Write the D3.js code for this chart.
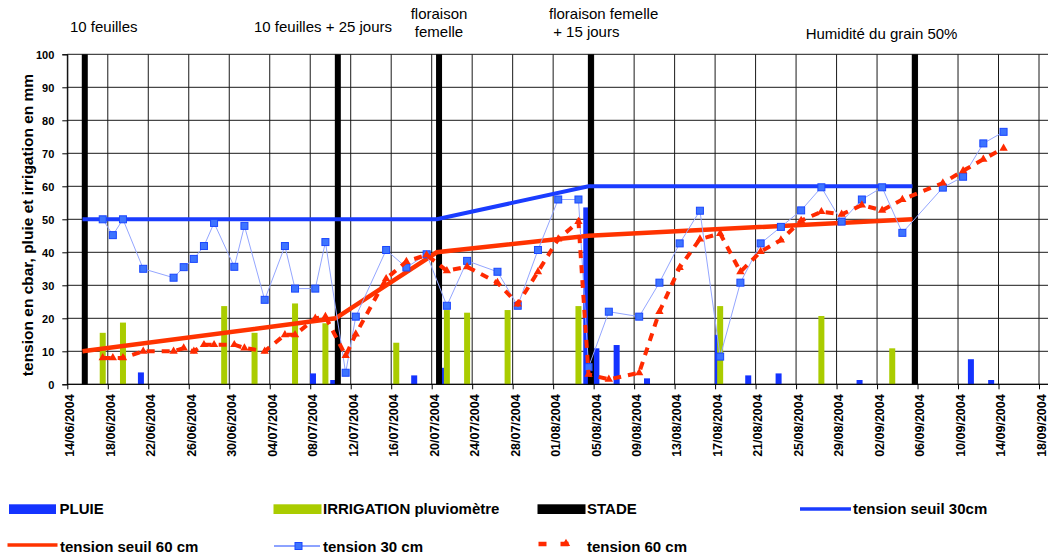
<!DOCTYPE html>
<html><head><meta charset="utf-8">
<script src="https://cdn.jsdelivr.net/npm/d3@7"></script>
<style>
html,body{margin:0;padding:0;background:#fff;}
svg{display:block;font-family:"Liberation Sans",Arial,sans-serif;}
</style></head>
<body><svg id="c" width="1048" height="555"></svg>
<script>
// ---------- DATA ----------
const tension30Dates = ["17/06","18/06","19/06","21/06","24/06","25/06","26/06","27/06","28/06","30/06","01/07","03/07","05/07","06/07","08/07","09/07","11/07","12/07","15/07","17/07","19/07","21/07","23/07","26/07","28/07","30/07","01/08","03/08","04/08","06/08","09/08","11/08","13/08","15/08","17/08","19/08","21/08","23/08","25/08","27/08","29/08","31/08","02/09","04/09","08/09","10/09","12/09","14/09"];
const tension30Values = [50,45.2,50,35,32.3,35.5,38,41.9,48.9,35.6,48,25.6,41.9,29,29,43.1,3.5,20.5,40.7,35.4,39.4,23.8,37.4,34.1,23.8,40.7,56,56,5.2,22,20.5,30.8,42.7,52.6,8.4,30.8,42.7,47.7,52.7,59.7,49.3,56,59.7,45.9,59.6,62.9,73,76.5];
const tension60Dates = tension30Dates;
const tension60Values = [8,8,8,10,10,11,10,12,12,12,11,10,15,15,20,20.5,8.7,15.2,32,37.2,39.2,34.4,35.6,30.8,24.3,34.1,44,49.3,3,1.5,3.5,22,35.4,44,45.7,34.1,40.2,43.7,49.6,52.3,51.5,54.3,52.7,56,61,64.7,68.2,71.5];
const pluieDates = ["21/06","08/07","10/07","18/07","21/07","04/08","05/08","07/08","10/08","17/08","20/08","23/08","31/08","11/09","13/09"];
const pluieValues = [3.6,3.3,1.3,2.7,5,53.6,10.9,11.9,1.8,15,2.7,3.3,1.3,7.6,1.3];
const irrigationDates = ["17/06","19/06","29/06","02/07","06/07","09/07","16/07","21/07","23/07","27/07","03/08","17/08","27/08","03/09"];
const irrigationValues = [15.6,18.7,23.7,15.6,24.5,18.5,12.6,22.5,21.7,22.5,23.7,23.7,20.7,10.9];
const stadeDates = ["15/06","10/07","20/07","04/08","05/09"];
const stadeValues = [100,100,100,100,100];
const stadeLabels = [["10 feuilles"],["10 feuilles + 25 jours"],["floraison","femelle"],["floraison femelle"," + 15 jours"],["Humidité du grain 50%"]];
const seuil30Dates = ["15/06","10/07","20/07","04/08","05/09"];
const seuil30Values = [50,50,50,60,60];
const seuil60Dates = ["15/06","10/07","20/07","04/08","05/09"];
const seuil60Values = [10,20,40,45,50];
const xTickLabels = ["14/06/2004","18/06/2004","22/06/2004","26/06/2004","30/06/2004","04/07/2004","08/07/2004","12/07/2004","16/07/2004","20/07/2004","24/07/2004","28/07/2004","01/08/2004","05/08/2004","09/08/2004","13/08/2004","17/08/2004","21/08/2004","25/08/2004","29/08/2004","02/09/2004","06/09/2004","10/09/2004","14/09/2004","18/09/2004"];
const yTicks = [0,10,20,30,40,50,60,70,80,90,100];
const yTitle = "tension en cbar, pluie et irrigation en mm";
const legendRow1 = ["PLUIE","IRRIGATION pluviomètre","STADE","tension seuil 30cm"];
const legendRow2 = ["tension seuil 60 cm","tension 30 cm","tension 60 cm"];

// ---------- SETUP ----------
const svg = d3.select("#c");
svg.append("rect").attr("width",1048).attr("height",555).attr("fill","#fff");
const pd = s => { const [d,m] = s.split("/").map(Number); return new Date(Date.UTC(2004,m-1,d,12)); };
const pdt = s => { const [d,m,yy] = s.split("/").map(Number); return new Date(Date.UTC(yy,m-1,d)); };
const x = d3.scaleUtc().domain([new Date(Date.UTC(2004,5,14)), new Date(Date.UTC(2004,8,18))]).range([67.3,1039]);
const y = d3.scaleLinear().domain([0,100]).range([384.3,54.3]);
const plotRight = 1048;
const xTicks = xTickLabels.map(pdt);

const C = {pluie:"#1433ff", irr:"#aacc00", stade:"#000", s30:"#1a3cff", s60:"#ff3300", t30:"#3d74ff", t30b:"#1a46ff", t30l:"#94a6ff", t60:"#ff2a00"};
const barW = 6, off = {pluie:-2.3, irr:0, stade:2.3};

// grid
const g = svg.append("g");
g.selectAll("line.h").data(yTicks).join("line")
  .attr("x1",x.range()[0]).attr("x2",plotRight).attr("y1",d=>y(d)).attr("y2",d=>y(d))
  .attr("stroke","#1a1a1a").attr("stroke-width",1);
g.selectAll("line.v").data(xTicks).join("line")
  .attr("x1",d=>x(d)).attr("x2",d=>x(d)).attr("y1",y(100)).attr("y2",y(0))
  .attr("stroke","#1a1a1a").attr("stroke-width",1);

// bars
function bars(dates, vals, color, o){
  svg.append("g").selectAll("rect").data(dates.map((d,i)=>({d:pd(d),v:vals[i]}))).join("rect")
    .attr("x",d=>x(d.d)+o-barW/2).attr("width",barW)
    .attr("y",d=>y(d.v)).attr("height",d=>y(0)-y(d.v)).attr("fill",color);
}
bars(pluieDates,pluieValues,C.pluie,off.pluie);
bars(irrigationDates,irrigationValues,C.irr,off.irr);
bars(stadeDates,stadeValues,C.stade,off.stade);

// axes
const xAxis = svg.append("g").attr("transform",`translate(0,${y(0)})`)
  .call(d3.axisBottom(x).tickValues(xTicks).tickSize(5).tickFormat((d,i)=>xTickLabels[i]));
xAxis.select(".domain").attr("d",`M${x.range()[0]},0H${plotRight}`).attr("stroke","#000");
xAxis.selectAll(".tick line").attr("stroke","#000");
xAxis.selectAll(".tick text").attr("transform","rotate(-90)").attr("text-anchor","end")
  .attr("x",-10).attr("y",2).attr("dy","0.35em")
  .attr("font-size","12.5px").attr("font-weight","bold").attr("fill","#000")
  .attr("font-family","'Liberation Sans',Arial,sans-serif");

const yAxis = svg.append("g").attr("transform",`translate(${x.range()[0]},0)`)
  .call(d3.axisLeft(y).tickValues(yTicks).tickSize(5).tickFormat(d3.format("d")));
yAxis.select(".domain").attr("stroke","#000");
yAxis.selectAll(".tick line").attr("stroke","#000");
yAxis.selectAll(".tick text").attr("x",-13).attr("dy","0.4em")
  .attr("font-size","11px").attr("font-weight","bold").attr("fill","#000")
  .attr("font-family","'Liberation Sans',Arial,sans-serif");

svg.append("text").attr("transform","translate(33,225) rotate(-90)").attr("text-anchor","middle")
  .attr("font-size","15.5px").attr("font-weight","bold").text(yTitle);

// lines
const line = d3.line().x(d=>x(d.d)).y(d=>y(d.v));
const mk = (ds,vs)=>ds.map((d,i)=>({d:pd(d),v:vs[i]}));
const s30 = mk(seuil30Dates,seuil30Values), s60 = mk(seuil60Dates,seuil60Values);
const t30 = mk(tension30Dates,tension30Values), t60 = mk(tension60Dates,tension60Values);
svg.append("path").datum(s30).attr("d",line).attr("fill","none").attr("stroke",C.s30).attr("stroke-width",4);
svg.append("path").datum(s60).attr("d",line).attr("fill","none").attr("stroke",C.s60).attr("stroke-width",4.5);
svg.append("path").datum(t30).attr("d",line).attr("fill","none").attr("stroke",C.t30l).attr("stroke-width",1);
svg.append("g").selectAll("rect").data(t30).join("rect")
  .attr("x",d=>x(d.d)-3.5).attr("y",d=>y(d.v)-3.5).attr("width",7).attr("height",7)
  .attr("fill",C.t30).attr("stroke",C.t30b).attr("stroke-width",1);
svg.append("path").datum(t60).attr("d",line).attr("fill","none").attr("stroke",C.t60)
  .attr("stroke-width",4).attr("stroke-dasharray","8,7");
const tri = d3.symbol().type(d3.symbolTriangle).size(30);
svg.append("g").selectAll("path").data(t60).join("path")
  .attr("transform",d=>`translate(${x(d.d)},${y(d.v)})`).attr("d",tri).attr("fill",C.t60);

// stade labels
const lblPos = [[70,32.3,"start"],[254,32.3,"start"],[439,19,"middle"],[549,19,"start"],[805.7,39,"start"]];
stadeLabels.forEach((lines,i)=>{
  const [lx,ly,a] = lblPos[i];
  const t = svg.append("text").attr("x",lx).attr("y",ly).attr("text-anchor",a)
    .attr("font-size","15px").attr("fill","#000");
  lines.forEach((s,j)=>t.append("tspan").attr("x",lx).attr("y",ly+j*18.3).attr("xml:space","preserve").text(s));
});

// legend
const L = svg.append("g").attr("font-size","15px").attr("font-weight","bold");
const r1y = 509, r2y = 546;
L.append("rect").attr("x",9).attr("y",504.3).attr("width",47).attr("height",9.7).attr("fill",C.pluie);
L.append("rect").attr("x",273.5).attr("y",504.3).attr("width",48).attr("height",9.7).attr("fill",C.irr);
L.append("rect").attr("x",537.5).attr("y",504.3).attr("width",48).attr("height",9.7).attr("fill",C.stade);
L.append("line").attr("x1",800).attr("x2",851).attr("y1",r1y).attr("y2",r1y).attr("stroke",C.s30).attr("stroke-width",3.5);
L.append("line").attr("x1",7.5).attr("x2",57.5).attr("y1",r2y-1).attr("y2",r2y-1).attr("stroke",C.s60).attr("stroke-width",3.5);
L.append("line").attr("x1",274).attr("x2",320).attr("y1",r2y).attr("y2",r2y).attr("stroke",C.t30b).attr("stroke-width",1);
L.append("rect").attr("x",295).attr("y",r2y-3.5).attr("width",7).attr("height",7).attr("fill",C.t30).attr("stroke",C.t30b);
L.append("line").attr("x1",538.5).attr("x2",574).attr("y1",r2y-2).attr("y2",r2y-2).attr("stroke",C.t60).attr("stroke-width",4.5).attr("stroke-dasharray","8,14");
L.append("path").attr("transform",`translate(566,${r2y-2.5})`).attr("d",tri).attr("fill",C.t60);
const r1x = [59.5,323,587,853], r2x = [60,323,587];
legendRow1.forEach((s,i)=>L.append("text").attr("x",r1x[i]).attr("y",514).text(s));
legendRow2.forEach((s,i)=>L.append("text").attr("x",r2x[i]).attr("y",551.5).text(s));
</script></body></html>
